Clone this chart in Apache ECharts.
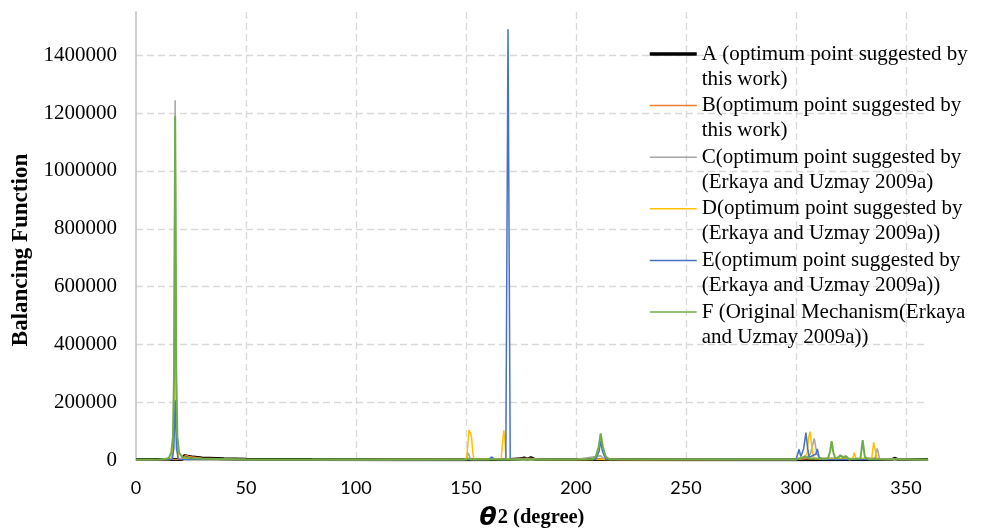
<!DOCTYPE html>
<html><head><meta charset="utf-8">
<script src="https://cdn.jsdelivr.net/npm/echarts@6/dist/echarts.min.js"></script>
<style>html,body{margin:0;padding:0;background:#fff}#c{width:984px;height:528px}</style>
</head><body><div id="c"></div>
<script>
// Series names (legend)
const seriesNames = [
  "A (optimum point suggested by\nthis work)",
  "B(optimum point suggested by\nthis work)",
  "C(optimum point suggested by\n(Erkaya and Uzmay 2009a)",
  "D(optimum point suggested by\n(Erkaya and Uzmay 2009a))",
  "E(optimum point suggested by\n(Erkaya and Uzmay 2009a))",
  "F (Original Mechanism(Erkaya\nand Uzmay 2009a))"
];
const xTicks = [0, 50, 100, 150, 200, 250, 300, 350];
const yTicks = [0, 200000, 400000, 600000, 800000, 1000000, 1200000, 1400000];

// theta2 (degree) and balancing-function values
const A_x = [0, 10, 16, 19, 21, 22, 23, 26, 30, 40, 50, 80, 120, 150, 170, 175, 176.5, 178, 179.5, 181, 190, 210, 250, 300, 340, 344, 345, 346, 360];
const A_y = [2000, 2000, 2000, 2000, 2000, 16000, 14000, 10000, 7000, 4000, 2500, 1500, 1000, 1000, 2000, 4000, 7000, 3000, 8000, 3000, 1500, 1500, 1000, 1000, 1500, 3000, 6000, 2000, 1500];

const B_x = [0, 15, 20, 21.5, 22.5, 24, 30, 50, 100, 160, 163, 166, 170, 178, 185, 205, 212, 220, 230, 300, 306, 312, 330, 340, 360];
const B_y = [1000, 1500, 2000, 2000, 17000, 12000, 6000, 2000, 1000, 1500, 4000, 3000, 1500, 6000, 1500, 2000, 4000, 2000, 1000, 1500, 5000, 3000, 4000, 1500, 1000];

const C_x = [0, 15, 16.5, 17.2, 17.8, 18.4, 19.2, 22, 30, 50, 100, 149, 150.5, 151, 151.7, 152.5, 161, 162, 163, 166, 166.5, 167, 200, 211, 213, 300, 305, 306.5, 308.3, 309.5, 311, 319, 320, 321, 322.5, 324, 336, 336.9, 338, 360];
const C_y = [1000, 1500, 5000, 100000, 1245000, 100000, 5000, 4000, 3000, 2000, 1000, 1000, 8000, 25000, 10000, 2000, 3000, 10000, 3000, 2000, 8000, 2000, 1500, 15000, 2000, 1500, 10000, 20000, 75000, 20000, 5000, 8000, 18000, 10000, 15000, 2000, 8000, 40000, 5000, 1000];

const D_x = [0, 15, 16, 17, 17.8, 18.6, 19.5, 22, 30, 100, 150.3, 150.9, 151.4, 151.9, 152.5, 153.1, 153.6, 166, 166.6, 167.2, 167.7, 168.2, 170, 300, 301.5, 302.5, 305, 305.8, 306.4, 307, 307.8, 309, 320, 325.8, 326.5, 327.2, 334.4, 335.3, 336.3, 337, 360];
const D_y = [1000, 1500, 3000, 60000, 555000, 60000, 3000, 3000, 2000, 1000, 3000, 60000, 105000, 110000, 80000, 25000, 3000, 3000, 60000, 103000, 70000, 5000, 2000, 2000, 8000, 5000, 20000, 80000, 98000, 60000, 10000, 5000, 5000, 5000, 25000, 5000, 5000, 61000, 25000, 3000, 1000];

const E_x = [0, 15, 16.5, 17.2, 17.8, 18.4, 19.2, 22, 100, 160.5, 161.5, 162.5, 168.1, 169.1, 170.1, 171, 209, 210.5, 211.2, 212, 213.5, 300, 300.8, 301.4, 302.2, 303.5, 304.5, 305.3, 306, 309, 309.7, 310.5, 312, 330, 360];
const E_y = [1000, 1500, 3000, 40000, 207000, 40000, 3000, 2000, 1000, 2000, 10000, 3000, 2000, 1490000, 2000, 1000, 3000, 30000, 65000, 30000, 3000, 2000, 20000, 37000, 12000, 40000, 95000, 40000, 10000, 20000, 38000, 10000, 2000, 2000, 1000];

const F_x = [0, 10, 14, 15, 16, 16.8, 17.3, 17.8, 18.3, 18.8, 19.6, 21, 25, 30, 50, 100, 150, 151, 152, 200, 207.5, 209, 210.3, 211.2, 212.2, 213.5, 215, 300, 302, 304, 306, 314.5, 315.5, 316.2, 317, 318, 320.5, 321.5, 323, 324, 329.3, 330.3, 331.3, 333, 360];
const F_y = [2000, 2000, 4000, 8000, 25000, 80000, 300000, 1190000, 300000, 80000, 25000, 10000, 6000, 4000, 2000, 1500, 1500, 5000, 2000, 1500, 3000, 12000, 45000, 92000, 45000, 12000, 3000, 2000, 5000, 12000, 5000, 4000, 30000, 65000, 25000, 4000, 15000, 8000, 12000, 3000, 5000, 69000, 10000, 3000, 2000];

const colors = ['#000000', '#ED7D31', '#A5A5A5', '#FFC000', '#4472C4', '#70AD47'];
const widths = [3, 1.5, 1.5, 1.5, 1.5, 2];
const xs = [A_x, B_x, C_x, D_x, E_x, F_x];
const ys = [A_y, B_y, C_y, D_y, E_y, F_y];

function pairs(x, y) { return x.map((v, i) => [v, y[i]]); }

const series = seriesNames.map((n, i) => ({
  name: n,
  type: 'line',
  data: pairs(xs[i], ys[i]),
  symbol: 'none',
  color: colors[i],
  lineStyle: { color: colors[i], width: widths[i] },
  z: 2 + i,
  animation: false
}));

const chart = echarts.init(document.getElementById('c'), null, { renderer: 'canvas' });
const grid = { left: 136, right: 56, top: 12, bottom: 68 };
const splitStyle = { show: true, showMinLine: false, showMaxLine: false, lineStyle: { color: '#d9d9d9', width: 1.3, type: [7, 4] } };
chart.setOption({
  animation: false,
  backgroundColor: '#ffffff',
  grid: grid,
  legend: {
    orient: 'vertical',
    left: 648,
    top: 16.5,
    padding: 0,
    itemWidth: 47,
    itemHeight: 14,
    itemGap: -23.4,
    data: seriesNames.map((n, i) => ({ name: n, lineStyle: { width: i === 0 ? 3.5 : 1.5 } })),
    itemStyle: { opacity: 0, borderWidth: 0 },
    formatter: n => '\n' + n,
    textStyle: {
      fontFamily: 'Liberation Serif',
      fontSize: 21,
      color: '#000',
      lineHeight: 25
    }
  },
  xAxis: {
    type: 'value',
    min: 0, max: 360, interval: 50,
    axisLine: { show: true, lineStyle: { color: '#bfbfbf', width: 1.5 } },
    axisTick: { show: false },
    axisLabel: {
      margin: 19, fontFamily: 'Lato', fontSize: 18, color: '#000',
      formatter: v => (xTicks.indexOf(v) >= 0 ? String(v) : '')
    },
    splitLine: splitStyle
  },
  yAxis: {
    type: 'value',
    min: 0, max: 1550000, interval: 200000,
    axisLine: { show: true, lineStyle: { color: '#bfbfbf', width: 1.5 } },
    axisTick: { show: false },
    axisLabel: {
      margin: 19, fontFamily: 'Liberation Serif', fontSize: 21, color: '#000',
      formatter: v => (yTicks.indexOf(v) >= 0 ? String(v) : '')
    },
    splitLine: splitStyle
  },
  graphic: [
    {
      type: 'text', x: 21.5, y: 250, rotation: Math.PI / 2,
      style: { text: 'Balancing Function', font: 'bold 23px "Liberation Serif"', fill: '#000', align: 'center', verticalAlign: 'middle' }
    },
    {
      type: 'text', x: 532, y: 518,
      style: {
        text: '{t|θ}{n|2 (degree)}', align: 'center', verticalAlign: 'middle',
        rich: {
          t: { fontFamily: 'DejaVu Sans', fontStyle: 'italic', fontWeight: 'bold', fontSize: 25, fill: '#000', padding: [0, 1, 0, 0] },
          n: { fontFamily: 'Liberation Serif', fontWeight: 'bold', fontSize: 20.5, fill: '#000' }
        }
      }
    }
  ],
  series: series
});
</script></body></html>
